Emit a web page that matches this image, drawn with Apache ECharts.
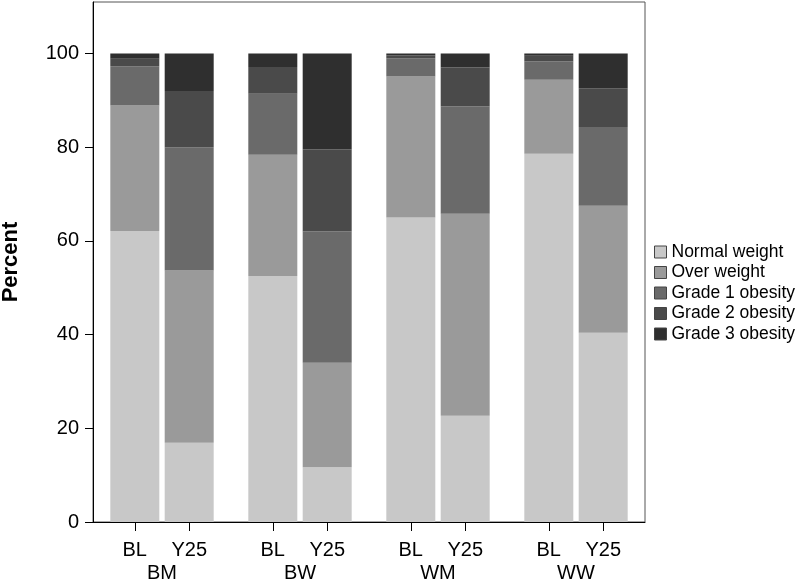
<!DOCTYPE html>
<html>
<head>
<meta charset="utf-8">
<script src="https://cdn.jsdelivr.net/npm/echarts@6/dist/echarts.min.js"></script>
<style>
  html, body { margin: 0; padding: 0; background: #fff; }
  #chart { width: 800px; height: 582px; }
</style>
</head>
<body>
<div id="chart"></div>
<script>
// ---- data ----
var groups = ['BM', 'BW', 'WM', 'WW'];
var timepoints = ['BL', 'Y25'];
var categoryNames = ['Normal weight', 'Over weight', 'Grade 1 obesity', 'Grade 2 obesity', 'Grade 3 obesity'];
// percent per group (BM, BW, WM, WW) at baseline
var normalBL = [62.1, 52.5, 65.0, 78.6];
var overBL   = [26.8, 25.9, 30.1, 15.8];
var grade1BL = [8.4, 13.0, 3.9, 3.9];
var grade2BL = [1.6, 5.7, 0.6, 1.2];
var grade3BL = [1.1, 2.9, 0.4, 0.5];
// percent per group at year 25
var normalY25 = [16.9, 11.7, 22.7, 40.4];
var overY25   = [36.8, 22.3, 43.1, 27.1];
var grade1Y25 = [26.3, 28.0, 22.9, 16.8];
var grade2Y25 = [12.0, 17.5, 8.3, 8.3];
var grade3Y25 = [8.0, 20.5, 3.0, 7.4];
var yTicks = [0, 20, 40, 60, 80, 100];

var colors = ['#c8c8c8', '#9a9a9a', '#6a6a6a', '#4a4a4a', '#2f2f2f'];
var blData = [normalBL, overBL, grade1BL, grade2BL, grade3BL];
var y25Data = [normalY25, overY25, grade1Y25, grade2Y25, grade3Y25];

var FONT = "'Liberation Sans', Arial, sans-serif";
var plotLeft = 93, plotWidth = 552, offset = 27.25;

var series = [];
blData.forEach(function (d, i) {
  series.push({
    name: categoryNames[i], type: 'bar', stack: 'BL', data: d,
    xAxisIndex: 0, yAxisIndex: 0,
    barWidth: 49, barGap: '11%',
    itemStyle: { color: colors[i] }
  });
});
y25Data.forEach(function (d, i) {
  series.push({
    name: categoryNames[i], type: 'bar', stack: 'Y25', data: d,
    xAxisIndex: 0, yAxisIndex: 0,
    barWidth: 49, barGap: '11%',
    itemStyle: { color: colors[i] }
  });
});

function subAxis(gridIndex, label) {
  return {
    type: 'category', gridIndex: gridIndex, position: 'bottom',
    data: groups.map(function () { return label; }),
    axisLine: { show: false },
    axisTick: { show: true, alignWithLabel: true, length: 9, lineStyle: { color: '#000', width: 1 } },
    axisLabel: { show: true, margin: 18, fontSize: 20, color: '#000', fontFamily: FONT },
    splitLine: { show: false }
  };
}

var chart = echarts.init(document.getElementById('chart'), null, { renderer: 'canvas' });
chart.setOption({
  backgroundColor: '#fff',
  animation: false,
  grid: [
    { left: plotLeft, width: plotWidth, top: 2, bottom: 60, show: true, borderColor: '#555', borderWidth: 1, backgroundColor: 'transparent', containLabel: false, outerBoundsMode: 'none' },
    { left: plotLeft - offset, width: plotWidth, top: 2, bottom: 60, containLabel: false, outerBoundsMode: 'none' },
    { left: plotLeft + offset, width: plotWidth, top: 2, bottom: 60, containLabel: false, outerBoundsMode: 'none' }
  ],
  legend: {
    orient: 'vertical', left: 654, top: 243,
    data: categoryNames,
    icon: 'rect', itemWidth: 12, itemHeight: 12, itemGap: 2.5, padding: 0,
    itemStyle: { borderColor: '#444', borderWidth: 1 },
    textStyle: { fontSize: 17.5, color: '#000', fontFamily: FONT }
  },
  xAxis: [
    {
      type: 'category', gridIndex: 0, data: groups,
      axisLine: { show: true, lineStyle: { color: '#000', width: 1 } },
      axisTick: { show: false },
      axisLabel: { margin: 41, fontSize: 20, color: '#000', fontFamily: FONT },
      splitLine: { show: false }
    },
    subAxis(1, timepoints[0]),
    subAxis(2, timepoints[1])
  ],
  yAxis: [
    {
      type: 'value', gridIndex: 0, min: yTicks[0], max: 111, interval: 20,
      name: 'Percent', nameLocation: 'middle', nameGap: 71,
      nameTextStyle: { fontSize: 22, fontWeight: 'bold', color: '#000', fontFamily: FONT },
      axisLine: { show: true, lineStyle: { color: '#000', width: 1 } },
      axisTick: { show: true, length: 8, lineStyle: { color: '#000', width: 1 } },
      axisLabel: {
        margin: 14, fontSize: 20, color: '#000', fontFamily: FONT, showMaxLabel: false,
        formatter: function (v) { return yTicks.indexOf(v) >= 0 ? String(v) : ''; }
      },
      splitLine: { show: false }
    },
    { type: 'value', gridIndex: 1, show: false },
    { type: 'value', gridIndex: 2, show: false }
  ],
  series: series
});
</script>
</body>
</html>
